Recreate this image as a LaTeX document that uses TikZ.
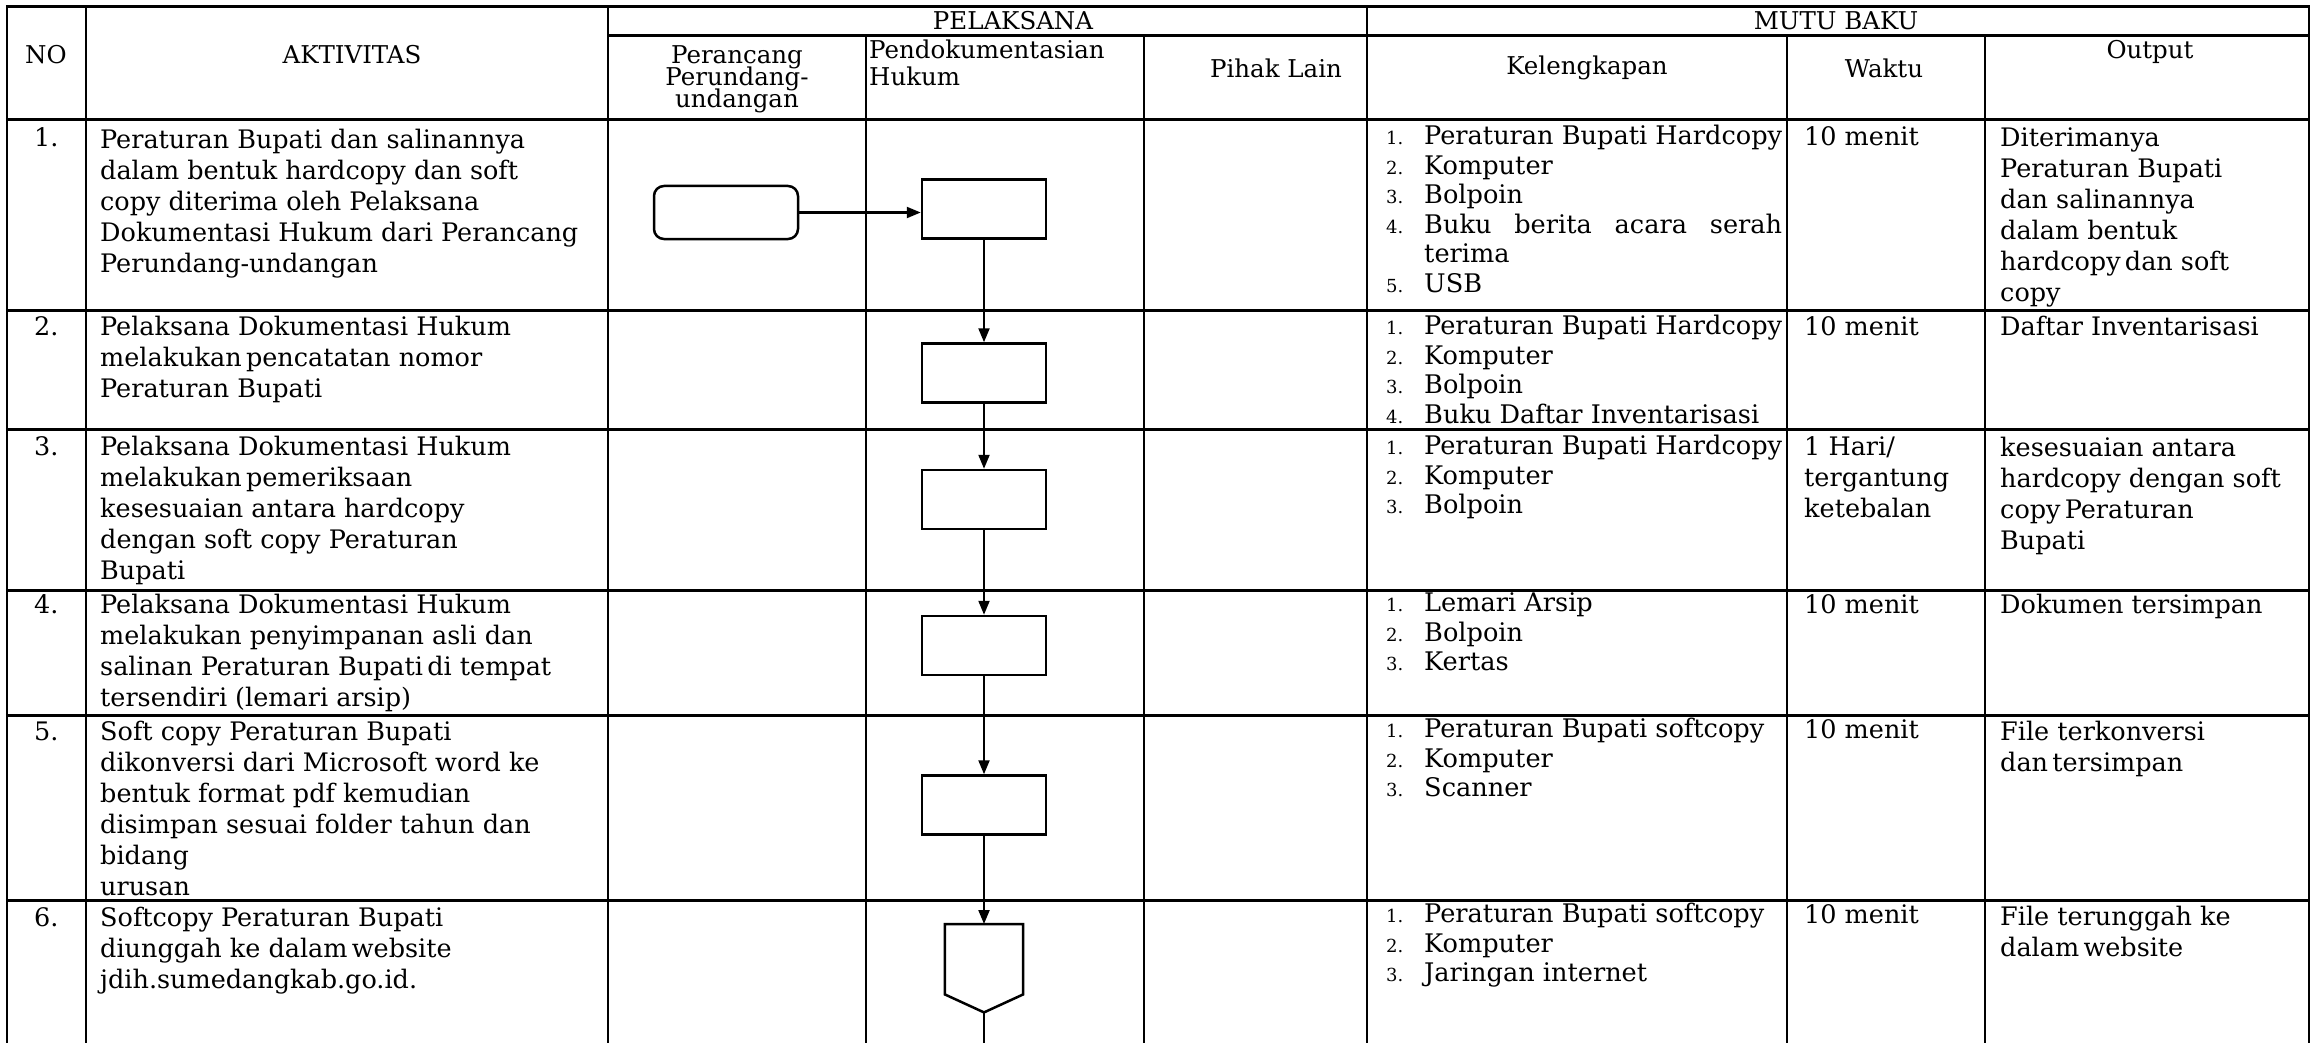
\documentclass[tikz,border=0pt]{standalone}
\usepackage{fontspec}
\setmainfont{DejaVu Serif}
\usetikzlibrary{arrows.meta}
\newcommand\cellfnt{\fontsize{25.5}{31}\selectfont}
\newcommand\listfnt{\fontsize{25.6}{29.5}\selectfont}
\newcommand\numfnt{\fontsize{18}{29.5}\selectfont}
\newcommand\headfnt{\fontsize{24.5}{22}\selectfont\lineskiplimit=-50pt\relax}
\begin{document}
\begin{tikzpicture}[x=1pt,y=-1pt,
  hrule/.style={line width=3pt},
  vrule/.style={line width=2.3pt},
  cell/.style={inner sep=0pt,anchor=north west,align=left,font=\cellfnt},
  listcell/.style={cell,font=\listfnt},
  numcell/.style={cell,font=\numfnt},
  head/.style={inner sep=0pt,align=center,font=\headfnt},
  procbox/.style={draw,line width=2.5pt,minimum width=124pt,minimum height=59pt,inner sep=0pt},
  startbox/.style={procbox,rounded corners=10pt,minimum width=144pt,minimum height=53pt},
  flow/.style={line width=2.2pt,-{Triangle[length=14pt,width=11pt]}}]
\fill[white] (0,0) rectangle (2318,1043);
\useasboundingbox (0,0) rectangle (2318,1043);

% table rules
\foreach \xx in {7,86,608,1367,2309} \draw[vrule] (\xx,7) -- (\xx,1043);
\foreach \xx in {866,1144,1787,1985} \draw[vrule] (\xx,36) -- (\xx,1043);
\draw[hrule] (5.85,7) -- (2310.15,7);
\draw[hrule] (608,36) -- (2310.15,36);
\foreach \yy in {120,310,429,590,715,900} \draw[hrule] (5.85,\yy) -- (2310.15,\yy);

% header
\node[head] (hno) at (46,55) {NO};
\node[head] (hakt) at (352,55) {AKTIVITAS};
\node[head] (hpel) at (1013,21) {PELAKSANA};
\node[head] (hmutu) at (1836,21) {MUTU BAKU};
\node[head] (hper) at (737,79) {Perancang\\Perundang-\\undangan};
\node[head,align=left,anchor=north west,font=\fontsize{24.5}{27}\selectfont] (hpend) at (869,40) {Pendokumentasian\\Hukum};
\node[head] (hpihak) at (1276,68) {Pihak Lain};
\node[head] (hkel) at (1587,68) {Kelengkapan};
\node[head] (hwaktu) at (1884,68) {Waktu};
\node[head] (hout) at (2150,52) {Output};

% row numbers
\node[cell] (n1) at (34,125) {\strut 1.};
\node[cell] (n2) at (34,314) {\strut 2.};
\node[cell] (n3) at (34,434) {\strut 3.};
\node[cell] (n4) at (34,592) {\strut 4.};
\node[cell] (n5) at (34,719) {\strut 5.};
\node[cell] (n6) at (34,905) {\strut 6.};

% activities
\node[cell] (a1) at (100,127) {\strut Peraturan Bupati dan salinannya\\dalam bentuk hardcopy dan soft\\copy diterima oleh Pelaksana\\Dokumentasi Hukum dari Perancang\\Perundang-undangan};
\node[cell] (a2) at (100,314) {\strut Pelaksana Dokumentasi Hukum\\melakukan\,pencatatan nomor\\Peraturan Bupati};
\node[cell] (a3) at (100,434) {\strut Pelaksana Dokumentasi Hukum\\melakukan\,pemeriksaan\\kesesuaian antara hardcopy\\dengan soft copy Peraturan\\Bupati};
\node[cell] (a4) at (100,592) {\strut Pelaksana Dokumentasi Hukum\\melakukan penyimpanan asli dan\\salinan Peraturan Bupati\,di tempat\\tersendiri (lemari arsip)};
\node[cell] (a5) at (100,719) {\strut Soft copy Peraturan Bupati\\dikonversi dari Microsoft word ke\\bentuk format pdf kemudian\\disimpan sesuai folder tahun dan\\bidang\\urusan};
\node[cell] (a6) at (100,905) {\strut Softcopy Peraturan Bupati\\diunggah ke dalam\,website\\jdih.sumedangkab.go.id.};

% equipment lists
\node[numcell] (kn1) at (1386,124) {\strut 1.\\2.\\3.\\4.\\ \\5.};
\node[listcell] (k1) at (1424,124) {\strut Peraturan Bupati Hardcopy\\Komputer\\Bolpoin\\\makebox[358pt][s]{Buku berita acara serah}\\terima\\USB};
\node[numcell] (kn2) at (1386,314) {\strut 1.\\2.\\3.\\4.};
\node[listcell] (k2) at (1424,314) {\strut Peraturan Bupati Hardcopy\\Komputer\\Bolpoin\\Buku Daftar Inventarisasi};
\node[numcell] (kn3) at (1386,434) {\strut 1.\\2.\\3.};
\node[listcell] (k3) at (1424,434) {\strut Peraturan Bupati Hardcopy\\Komputer\\Bolpoin};
\node[numcell] (kn4) at (1386,591) {\strut 1.\\2.\\3.};
\node[listcell] (k4) at (1424,591) {\strut Lemari Arsip\\Bolpoin\\Kertas};
\node[numcell] (kn5) at (1386,717) {\strut 1.\\2.\\3.};
\node[listcell] (k5) at (1424,717) {\strut Peraturan Bupati softcopy\\Komputer\\Scanner};
\node[numcell] (kn6) at (1386,902) {\strut 1.\\2.\\3.};
\node[listcell] (k6) at (1424,902) {\strut Peraturan Bupati softcopy\\Komputer\\Jaringan internet};

% time
\node[cell] (w1) at (1804,124) {\strut 10 menit};
\node[cell] (w2) at (1804,314) {\strut 10 menit};
\node[cell] (w3) at (1804,434) {\strut 1 Hari/\\tergantung\\ketebalan};
\node[cell] (w4) at (1804,592) {\strut 10 menit};
\node[cell] (w5) at (1804,717) {\strut 10 menit};
\node[cell] (w6) at (1804,902) {\strut 10 menit};

% output
\node[cell] (o1) at (2000,125) {\strut Diterimanya\\Peraturan Bupati\\dan salinannya\\dalam bentuk\\hardcopy\,dan soft\\copy};
\node[cell] (o2) at (2000,314) {\strut Daftar Inventarisasi};
\node[cell] (o3) at (2000,435) {\strut kesesuaian antara\\hardcopy dengan soft\\copy\,Peraturan\\Bupati};
\node[cell] (o4) at (2000,592) {\strut Dokumen tersimpan};
\node[cell] (o5) at (2000,719) {\strut File terkonversi\\dan\,tersimpan};
\node[cell] (o6) at (2000,904) {\strut File terunggah ke\\dalam\,website};

% flow chart
\node[startbox] (r1) at (726,212.5) {};
\node[procbox] (b1) at (984,209) {};
\node[procbox] (b2) at (984,373) {};
\node[procbox] (b3) at (984,499.5) {};
\node[procbox] (b4) at (984,645.5) {};
\node[procbox] (b5) at (984,805) {};
\node[inner sep=0pt,minimum width=78pt,minimum height=88pt,anchor=north] (p6) at (984,924) {};
\draw[line width=2.5pt,line join=miter]
  (p6.north west) -- (p6.north east) -- ([yshift=18pt]p6.south east)
  -- (p6.south) -- ([yshift=18pt]p6.south west) -- cycle;
\coordinate (pend) at (984,1043);

\draw[flow] (r1.east) -- (r1.east -| b1.west);
\draw[flow] (b1.south) -- (b2.north);
\draw[flow] (b2.south) -- (b3.north);
\draw[flow] (b3.south) -- (b4.north);
\draw[flow] (b4.south) -- (b5.north);
\draw[flow] (b5.south) -- (p6.north);
\draw[line width=1.3pt] (p6.south) -- (pend);
\end{tikzpicture}
\end{document}
